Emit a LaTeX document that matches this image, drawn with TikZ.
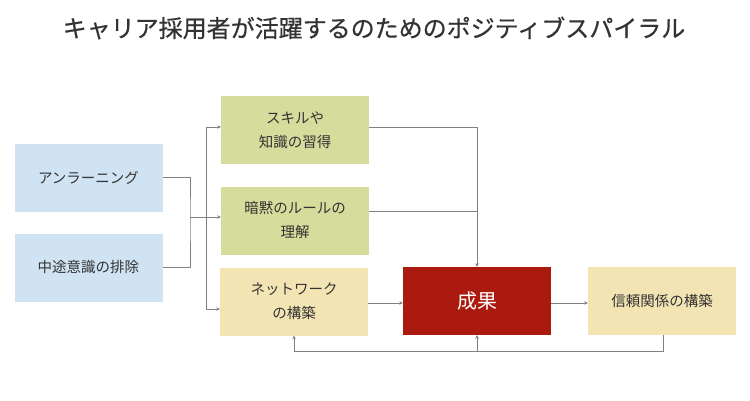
\documentclass[tikz,border=0pt]{standalone}
\usepackage{fontspec}
\setmainfont{Noto Sans CJK JP}
\newfontfamily\titlefont[FakeBold=0.6]{Noto Sans CJK JP}
\usetikzlibrary{arrows.meta}
\definecolor{bluebox}{HTML}{CFE3F3}
\definecolor{greenbox}{HTML}{D6DC9C}
\definecolor{yellowbox}{HTML}{F3E5B3}
\definecolor{redbox}{HTML}{AB1A0F}
\definecolor{txt}{HTML}{333333}
\definecolor{conn}{HTML}{808080}
\tikzset{
  box/.style={draw=none, minimum width=148pt, minimum height=68pt, inner sep=0pt, align=center,
    font=\fontsize{14.5}{24}\selectfont, text=txt},
  conn/.style={draw=conn, line width=0.8pt},
  arr/.style={conn, -{Stealth[length=3.5pt,width=3.5pt]}},
}
\begin{document}
\begin{tikzpicture}[x=1pt,y=-1pt]
\useasboundingbox (0,0) rectangle (750,400);
\node[font=\titlefont\fontsize{24}{28}\selectfont, text=txt] (title) at (374,28) {キャリア採用者が活躍するのためのポジティブスパイラル};
\node[box, fill=bluebox] (un) at (88.5,177.5) {アンラーニング};
\node[box, fill=bluebox] (mid) at (88.5,267.5) {中途意識の排除};
\node[box, fill=greenbox] (skill) at (295,130) {スキルや\\知識の習得};
\node[box, fill=greenbox] (rule) at (295,220.5) {暗黙のルールの\\理解};
\node[box, fill=yellowbox] (net) at (294,301.5) {ネットワーク\\の構築};
\node[box, fill=redbox, text=white, font=\fontsize{20}{24}\selectfont] (res) at (477,301) {成果};
\node[box, fill=yellowbox] (trust) at (662,301) {信頼関係の構築};
% left joins
\coordinate (j1) at (190,217);
\coordinate (bus) at (206,217);
\draw[conn] (un.east) -| (j1) |- (mid.east);
\draw[conn] (j1) -- (bus);
\draw[conn] (206,127) -- (206,309);
\draw[arr] (206,127) -- (skill.west |- 0,127);
\draw[arr] (bus) -- (rule.west |- bus);
\draw[arr] (206,309) -- (net.west |- 0,309);
% right joins
\coordinate (r1) at (477,127);
\draw[conn] (skill.east |- r1) -- (r1);
\draw[conn] (rule.east |- 0,211) -- (477,211);
\draw[arr] (r1) -- (res.north);
\draw[arr] (net.east |- 0,303) -- (res.west |- 0,303);
\draw[arr] (res.east |- 0,303) -- (trust.west |- 0,303);
% feedback
\coordinate (fb) at (663,351);
\draw[conn] (trust.south -| fb) -- (fb) -- (net.south |- fb);
\draw[arr] (net.south |- fb) -- (net.south);
\draw[arr] (res.south |- fb) -- (res.south);
\end{tikzpicture}
\end{document}
